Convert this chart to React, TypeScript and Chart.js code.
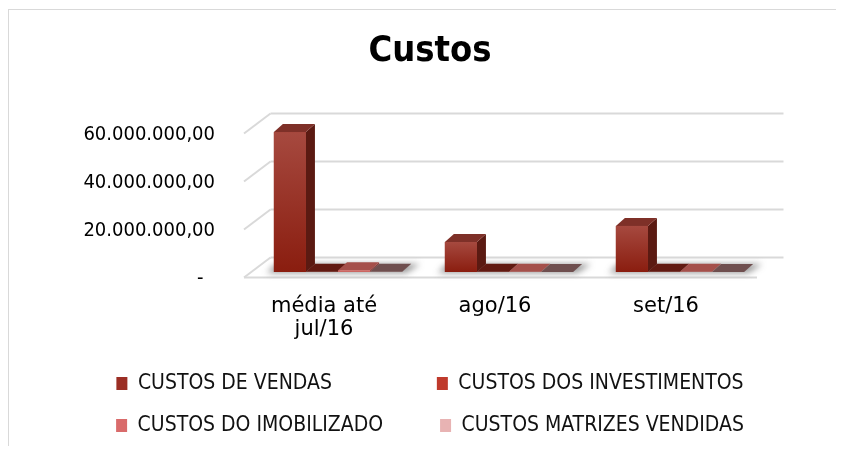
import React, { useEffect, useRef } from 'react';
import { Chart, registerables } from 'chart.js';

Chart.register(...registerables);

// ---- data ----
const categories: (string | string[])[] = [['média até', 'jul/16'], 'ago/16', 'set/16'];
const seriesNames = [
  'CUSTOS DE VENDAS',
  'CUSTOS DOS INVESTIMENTOS',
  'CUSTOS DO IMOBILIZADO',
  'CUSTOS MATRIZES VENDIDAS',
];
const custosVendas = [58300000, 12500000, 19200000];
const custosInvestimentos = [150000, 60000, 60000];
const custosImobilizado = [700000, 80000, 80000];
const custosMatrizes = [60000, 30000, 30000];
const yTickValues = [0, 20000000, 40000000, 60000000];
const chartTitle = 'Custos';

// ---- styles ----
const COND = "'DejaVu Sans Condensed', 'DejaVu Sans', sans-serif";
const SANS = "'DejaVu Sans', sans-serif";
const legendColors = ['#9b2e24', '#bf3a2c', '#d96b6b', '#e8b3b3'];
const frontTop = ['#a6493f', '#c0453a', '#d67a76', '#e6baba'];
const frontBottom = ['#8a1d0f', '#a82a1c', '#c65e5a', '#d9a3a3'];
const sideColors = ['#5b1a12', '#6e1c14', '#8e3e3b', '#8e6d6d'];
const topColors = ['#7e3028', '#621a12', '#a5504b', '#6f4f4f'];
const GRID = '#d9d9d9';
const BAR_DX = 9;
const BAR_DY = -8;
const FRONT = { dx: -8.5, dy: 5.5 };
const BACK = { dx: 18, dy: -14.5 };
const LEGEND_FONT = 21;
const LEGEND_COL = 283.5;

function fmt(v: number): string {
  if (v === 0) return '-\u2007';
  const s = Math.round(v).toString();
  let out = '';
  for (let i = 0; i < s.length; i++) {
    if (i > 0 && (s.length - i) % 3 === 0) out += '.';
    out += s[i];
  }
  return out + ',00';
}

function line(ctx: CanvasRenderingContext2D, x1: number, y1: number, x2: number, y2: number) {
  ctx.beginPath();
  ctx.moveTo(x1, y1);
  ctx.lineTo(x2, y2);
  ctx.stroke();
}

const threeD = {
  id: 'threeD',
  beforeDraw(chart: any) {
    const { ctx, width, height } = chart;
    ctx.save();
    ctx.strokeStyle = GRID;
    ctx.lineWidth = 1;
    line(ctx, 0.5, 1, 0.5, height);
    line(ctx, 0, 1.5, width, 1.5);
    ctx.restore();
  },
  beforeDatasetsDraw(chart: any) {
    const { ctx, chartArea: a } = chart;
    const ys = chart.scales.y;
    ctx.save();
    ctx.strokeStyle = GRID;
    ctx.lineWidth = 2;
    ys.ticks.forEach((t: any) => {
      const y = ys.getPixelForValue(t.value);
      line(ctx, a.left + BACK.dx, y + BACK.dy, a.right + BACK.dx, y + BACK.dy);
      line(ctx, a.left + FRONT.dx, y + FRONT.dy, a.left + BACK.dx, y + BACK.dy);
    });
    const y0 = ys.getPixelForValue(0);
    line(ctx, a.left + FRONT.dx, y0 + FRONT.dy, a.right + FRONT.dx, y0 + FRONT.dy);
    ctx.restore();

    // soft floor shadow under each group
    const n = chart.data.datasets.length;
    const metas = [];
    for (let i = 0; i < n; i++) metas.push(chart.getDatasetMeta(i));
    ctx.save();
    ctx.filter = 'blur(3px)';
    ctx.fillStyle = 'rgba(70,70,70,0.55)';
    for (let j = 0; j < chart.data.labels.length; j++) {
      const first = metas[0].data[j].getProps(['x', 'width', 'base'], true);
      const last = metas[n - 1].data[j].getProps(['x', 'width', 'base'], true);
      const L = first.x - first.width / 2;
      const R = last.x + last.width / 2;
      const b = first.base;
      ctx.beginPath();
      ctx.moveTo(L - 7, b + 1);
      ctx.lineTo(R + 4, b + 1);
      ctx.lineTo(R + BAR_DX + 9, b + BAR_DY);
      ctx.lineTo(L + BAR_DX - 7, b + BAR_DY);
      ctx.closePath();
      ctx.fill();
    }
    ctx.restore();
  },
  afterDatasetsDraw(chart: any) {
    const { ctx } = chart;
    const bars: any[] = [];
    chart.data.datasets.forEach((_: any, i: number) => {
      const meta = chart.getDatasetMeta(i);
      meta.data.forEach((el: any) => {
        const p = el.getProps(['x', 'y', 'base', 'width'], true);
        bars.push({ ...p, s: i });
      });
    });
    bars.sort((a, b) => a.x - b.x);
    ctx.save();
    bars.forEach((b) => {
      const L = b.x - b.width / 2;
      const R = b.x + b.width / 2;
      const T = Math.min(b.y, b.base);
      const B = Math.max(b.y, b.base);
      // side face
      ctx.fillStyle = sideColors[b.s];
      ctx.beginPath();
      ctx.moveTo(R, T);
      ctx.lineTo(R + BAR_DX, T + BAR_DY);
      ctx.lineTo(R + BAR_DX, B + BAR_DY);
      ctx.lineTo(R, B);
      ctx.closePath();
      ctx.fill();
      // top face
      ctx.fillStyle = topColors[b.s];
      ctx.beginPath();
      ctx.moveTo(L, T);
      ctx.lineTo(L + BAR_DX, T + BAR_DY);
      ctx.lineTo(R + BAR_DX, T + BAR_DY);
      ctx.lineTo(R, T);
      ctx.closePath();
      ctx.fill();
      // front face
      if (B - T > 0.5) {
        const g = ctx.createLinearGradient(0, T, 0, B);
        g.addColorStop(0, frontTop[b.s]);
        g.addColorStop(1, frontBottom[b.s]);
        ctx.fillStyle = g;
        ctx.fillRect(L, T, R - L, B - T);
      }
    });
    ctx.restore();
  },
};

export default function App() {
  const ref = useRef<HTMLCanvasElement>(null);
  useEffect(() => {
    if (!ref.current) return;
    const values = [custosVendas, custosInvestimentos, custosImobilizado, custosMatrizes];
    const chart = new Chart(ref.current, {
      type: 'bar',
      data: {
        labels: categories as any,
        datasets: seriesNames.map((name, i) => ({
          label: name,
          data: values[i],
          backgroundColor: legendColors[i],
          borderWidth: 0,
          categoryPercentage: 0.75,
          barPercentage: 1,
        })),
      },
      options: {
        responsive: false,
        animation: false,
        events: [],
        layout: { padding: { left: 16, right: 0, top: 0, bottom: 0 } },
        plugins: {
          title: {
            display: true,
            text: chartTitle,
            color: '#000',
            font: { family: COND, size: 36, weight: 'bold', lineHeight: 1.2 },
            padding: { top: 22.4, bottom: 54.4 },
          },
          legend: {
            position: 'bottom',
            align: 'center',
            labels: {
              boxWidth: 11,
              boxHeight: 13,
              padding: 21,
              color: '#111',
              font: { family: COND, size: LEGEND_FONT },
              generateLabels(ch: any) {
                const items = (Chart.defaults.plugins.legend.labels as any).generateLabels(ch);
                const c = ch.ctx;
                c.save();
                c.font = `${LEGEND_FONT}px ${COND}`;
                items.forEach((it: any, i: number) => {
                  it.fillStyle = legendColors[i];
                  it.strokeStyle = legendColors[i];
                  it.lineWidth = 0;
                  if (i % 2 === 0) {
                    let t = it.text;
                    while (c.measureText(t + ' ').width <= LEGEND_COL) t += ' ';
                    it.text = t;
                  }
                });
                c.restore();
                return items;
              },
            },
          },
          tooltip: { enabled: false },
        },
        scales: {
          x: {
            grid: { display: false, drawTicks: false },
            border: { display: false },
            ticks: {
              color: '#000',
              font: { family: SANS, size: 21, lineHeight: 1.1 },
              padding: 22.7,
              labelOffset: -14,
              maxRotation: 0,
              autoSkip: false,
            },
            afterFit: (s: any) => { s.height = 80; },
          },
          y: {
            min: 0,
            max: 60000000,
            grid: { display: false, drawTicks: false },
            border: { display: false },
            afterBuildTicks: (s: any) => { s.ticks = yTickValues.map((v) => ({ value: v })); },
            ticks: {
              color: '#000',
              font: { family: COND, size: 20 },
              padding: 37.5,
              labelOffset: 7,
              callback: (v: any) => fmt(Number(v)),
            },
            afterFit: (s: any) => { s.width = 228.5; },
          },
          yR: {
            position: 'right',
            display: true,
            grid: { display: false, drawTicks: false },
            border: { display: false },
            ticks: { display: false },
            afterFit: (s: any) => { s.width = 70.5; },
          },
        },
      } as any,
      plugins: [threeD],
    });
    return () => chart.destroy();
  }, []);
  return (
    <canvas ref={ref} width={828} height={438} style={{ display: 'block' }} />
  );
}
